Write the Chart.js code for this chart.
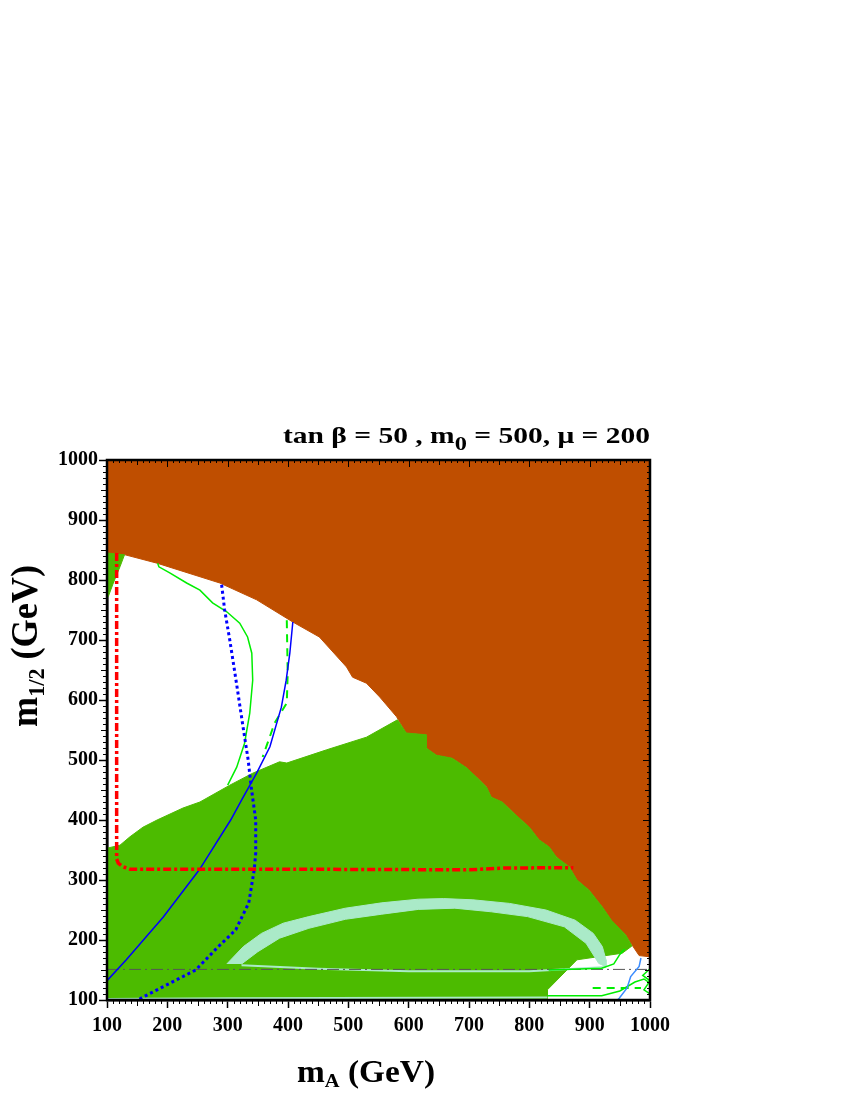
<!DOCTYPE html>
<html>
<head>
<meta charset="utf-8">
<script src="https://cdn.jsdelivr.net/npm/chart.js@4.4.0/dist/chart.umd.min.js"></script>
<style>
  html, body { margin: 0; padding: 0; background: #fff; }
</style>
</head>
<body>
<canvas id="chart" width="850" height="1100"></canvas>
<script>
// axis ranges / ticks
const xRange = [100, 1000];
const yRange = [100, 1000];
const tickStep = 100;

// brown region (excluded), boundary then closed along the top
const brownX = [100, 130, 183, 287, 348, 408, 452, 497, 507, 530, 552, 580, 596, 629, 629, 646, 672, 696, 717, 729, 737, 755, 778, 800, 816, 833, 845, 866, 879, 899, 921, 936, 960, 970, 982, 1000, 1000, 100];
const brownY = [845, 842, 828, 795, 767, 730, 705, 655, 638, 628, 605, 572, 545, 542, 520, 508, 503, 487, 467, 455, 438, 430, 408, 388, 367, 355, 338, 322, 300, 283, 255, 233, 208, 192, 174, 172, 1000, 1000];

// green region (b -> s gamma)
const greenX = [100, 100, 121.5, 138, 159.6, 183, 226, 254, 303.5, 341.5, 386, 398, 464, 530, 581.5, 596, 629, 629, 646, 672, 696, 717, 729, 737, 755, 778, 800, 816, 833, 845, 866, 879, 899, 921, 936, 960, 970, 954, 879, 830, 830];
const greenY = [100, 353, 358, 372, 388, 400, 420, 430, 458, 478, 497, 495, 517, 538, 567, 545, 542, 520, 508, 503, 487, 467, 455, 438, 430, 408, 388, 367, 355, 338, 322, 300, 283, 255, 233, 208, 190, 178, 167, 117, 100];

// small green wedge top-left
const wedgeX = [100, 129, 121.5, 110.5, 102, 100];
const wedgeY = [845, 842, 822, 795, 772, 770];

// light band (outer edge left->right, inner edge right->left)
const bandX = [298.5, 326, 356, 392, 434.5, 495, 555.5, 616, 658, 706.5, 767, 827.5, 876, 906, 921, 927, 927, 915, 894, 858, 797, 737, 676.5, 616, 555.5, 495, 434.5, 386, 350, 323];
const bandY = [160, 189, 211, 228, 239, 253, 262, 268, 269, 267, 261, 250, 233, 211, 189, 167, 155.5, 161, 194.5, 222, 239, 247, 253, 251, 243, 234.5, 219.5, 203, 180.5, 160];

// thin light lines
const mintLowX = [323, 450, 600, 800, 927];
const mintLowY = [158, 152, 148, 148, 155];
const mintBotX = [100, 300, 830];
const mintBotY = [101.5, 103, 104];

// red dash-dot line
const redX = [116, 116, 118.7, 126.5, 138, 400, 700, 760, 873];
const redY = [845, 335, 328, 322, 318, 318, 317, 320, 320.5];

// blue solid line
const blueX = [100.8, 132, 193, 253, 305, 323, 348, 370, 389, 397, 403, 408];
const blueY = [133, 167, 238, 317, 400, 433, 478, 522, 588, 633, 678, 730];

// blue dotted line
const blueDotX = [290, 295, 303.5, 314.6, 325.5, 334, 339, 342, 346.5, 346.5, 344, 335, 313.4, 283.6, 247, 192.7, 150.5];
const blueDotY = [792, 750, 700, 628, 555, 500, 455, 433, 400, 345, 317, 262, 217, 188, 150, 122, 100];

// green solid line
const limeX = [184, 186, 204, 232, 254, 275, 298.5, 320, 333, 340, 341.5, 336.6, 328, 315, 300];
const limeY = [828, 822, 812, 795, 783, 762, 747, 728, 705, 678, 633, 578, 528, 488, 458];

// green dashed line
const limeDashX = [398, 399.5, 398, 378, 358];
const limeDashY = [733, 645, 595, 562, 505];

// grey dash-dot line
const greyX = [100, 1000];
const greyY = [151, 151];

// lower right corner contours
const cornerTopX = [832, 920, 940, 950, 958];
const cornerTopY = [150, 153, 160, 176, 185];
const cornerBotX = [830, 920, 950, 975, 990, 1000];
const cornerBotY = [107, 107, 115, 130, 135, 128];
const cornerDashX = [905, 985];
const cornerDashY = [120, 120];
const cornerZigX = [1000, 988, 1000, 990, 1000];
const cornerZigY = [152, 141, 132, 117, 110];
const cornerBlueX = [985, 982, 968, 962, 949, 946];
const cornerBlueY = [170, 156, 139, 120, 103, 100];

const BROWN = '#bf4e00';
const GREEN = '#4cbb00';
const MINT = '#aaeac8';
const LIME = '#00ee00';
const SERIF = "'Liberation Serif', 'Times New Roman', serif";

function pts(xs, ys) {
    return xs.map((x, i) => ({ x: x, y: ys[i] }));
}

function area(xs, ys, color, order) {
    return {
        data: pts(xs, ys), showLine: true, fill: 'shape',
        backgroundColor: color, borderColor: color, borderWidth: 1,
        pointRadius: 0, tension: 0, order: order
    };
}

function curve(xs, ys, color, width, dash, order) {
    return {
        data: pts(xs, ys), showLine: true, fill: false,
        borderColor: color, borderWidth: width, borderDash: dash || [],
        borderCapStyle: 'butt', pointRadius: 0, tension: 0, order: order
    };
}

// draw text runs (with subscripts) stretched to a target length
function drawRuns(ctx, runs, targetWidth, thick) {
    let total = 0;
    runs.forEach(r => {
        ctx.font = 'bold ' + r.size + 'px ' + SERIF;
        r.w = ctx.measureText(r.text).width;
        total += r.w;
    });
    ctx.scale(targetWidth / total, thick || 1);
    let x = 0;
    runs.forEach(r => {
        ctx.font = 'bold ' + r.size + 'px ' + SERIF;
        ctx.fillText(r.text, x, r.dy || 0);
        x += r.w;
    });
}

const framePlugin = {
    id: 'frame',
    afterDraw(chart) {
        const { ctx, chartArea: a, scales: { x, y } } = chart;
        ctx.save();
        ctx.strokeStyle = '#000';
        ctx.lineWidth = 1;
        ctx.beginPath();
        for (let v = xRange[0]; v <= xRange[1]; v += 10) {
            const major = v % 100 === 0, half = v % 50 === 0;
            const px = Math.round(x.getPixelForValue(v)) + 0.5;
            const py = Math.round(y.getPixelForValue(v)) + 0.5;
            if (!major) {
                const out = half ? 6 : 4;
                ctx.moveTo(px, a.bottom); ctx.lineTo(px, a.bottom + out);
                ctx.moveTo(a.left, py); ctx.lineTo(a.left - out, py);
            }
            const inn = major ? 7 : (half ? 5 : 3);
            ctx.moveTo(px, a.top); ctx.lineTo(px, a.top + inn);
            ctx.moveTo(a.right, py); ctx.lineTo(a.right - inn, py);
        }
        ctx.stroke();
        ctx.lineWidth = 2.5;
        ctx.strokeRect(a.left, a.top, a.right - a.left, a.bottom - a.top);

        ctx.fillStyle = '#000';
        ctx.textBaseline = 'alphabetic';
        ctx.textAlign = 'left';

        // top title
        ctx.save();
        ctx.translate(283, 443);
        drawRuns(ctx, [
            { text: 'tan \u03b2 = 50 , m', size: 23 },
            { text: '0', size: 19, dy: 7 },
            { text: ' = 500, \u03bc = 200', size: 23 }
        ], 367);
        ctx.restore();

        // x axis title
        ctx.save();
        ctx.translate(297, 1082);
        drawRuns(ctx, [
            { text: 'm', size: 31 },
            { text: 'A', size: 19, dy: 5 },
            { text: ' (GeV)', size: 31 }
        ], 138);
        ctx.restore();

        // y axis title
        ctx.save();
        ctx.translate(37, 727);
        ctx.rotate(-Math.PI / 2);
        drawRuns(ctx, [
            { text: 'm', size: 31 },
            { text: '1/2', size: 19, dy: 6 },
            { text: ' (GeV)', size: 31 }
        ], 162, 1.22);
        ctx.restore();
        ctx.restore();
    }
};

const tickFont = { family: SERIF, size: 20, weight: 'bold' };

new Chart(document.getElementById('chart').getContext('2d'), {
    type: 'scatter',
    data: {
        datasets: [
            area(brownX, brownY, BROWN, 20),
            area(greenX, greenY, GREEN, 19),
            area(wedgeX, wedgeY, GREEN, 18),
            area(bandX, bandY, MINT, 17),
            curve(mintLowX, mintLowY, MINT, 2, null, 16),
            curve(mintBotX, mintBotY, MINT, 2, null, 16),
            curve(greyX, greyY, '#555555', 1, [12, 4, 2, 4], 10),
            curve(cornerTopX, cornerTopY, LIME, 1.5, null, 9),
            curve(cornerBotX, cornerBotY, LIME, 1.5, null, 9),
            curve(cornerDashX, cornerDashY, LIME, 2, [8, 6], 9),
            curve(cornerZigX, cornerZigY, LIME, 1.5, null, 9),
            curve(cornerBlueX, cornerBlueY, '#3a8cff', 1.5, null, 8),
            curve(limeX, limeY, LIME, 1.5, null, 6),
            curve(limeDashX, limeDashY, LIME, 2, [8, 6], 6),
            curve(blueX, blueY, '#0000ff', 1.5, null, 4),
            curve(blueDotX, blueDotY, '#0000ff', 3, [3, 3], 3),
            curve(redX, redY, '#ff0000', 3.5, [8, 3, 3, 3], 2)
        ]
    },
    options: {
        responsive: false,
        animation: false,
        events: [],
        layout: { padding: { left: 0, top: 460, right: 200, bottom: 0 } },
        plugins: { legend: { display: false }, tooltip: { enabled: false } },
        scales: {
            x: {
                type: 'linear', min: xRange[0], max: xRange[1],
                afterFit: s => { s.height = 100; },
                ticks: {
                    stepSize: tickStep, autoSkip: false, maxRotation: 0,
                    font: tickFont, color: '#000', padding: 6,
                    callback: v => String(v)
                },
                grid: { drawOnChartArea: false, tickLength: 8, tickWidth: 1.5, tickColor: '#000' },
                border: { color: '#000', width: 2.5 }
            },
            y: {
                type: 'linear', min: yRange[0], max: yRange[1],
                afterFit: s => { s.width = 107; },
                ticks: {
                    stepSize: tickStep, autoSkip: false,
                    font: tickFont, color: '#000', padding: 1,
                    callback: v => String(v)
                },
                grid: { drawOnChartArea: false, tickLength: 8, tickWidth: 1.5, tickColor: '#000' },
                border: { color: '#000', width: 2.5 }
            }
        }
    },
    plugins: [framePlugin]
});
</script>
</body>
</html>
